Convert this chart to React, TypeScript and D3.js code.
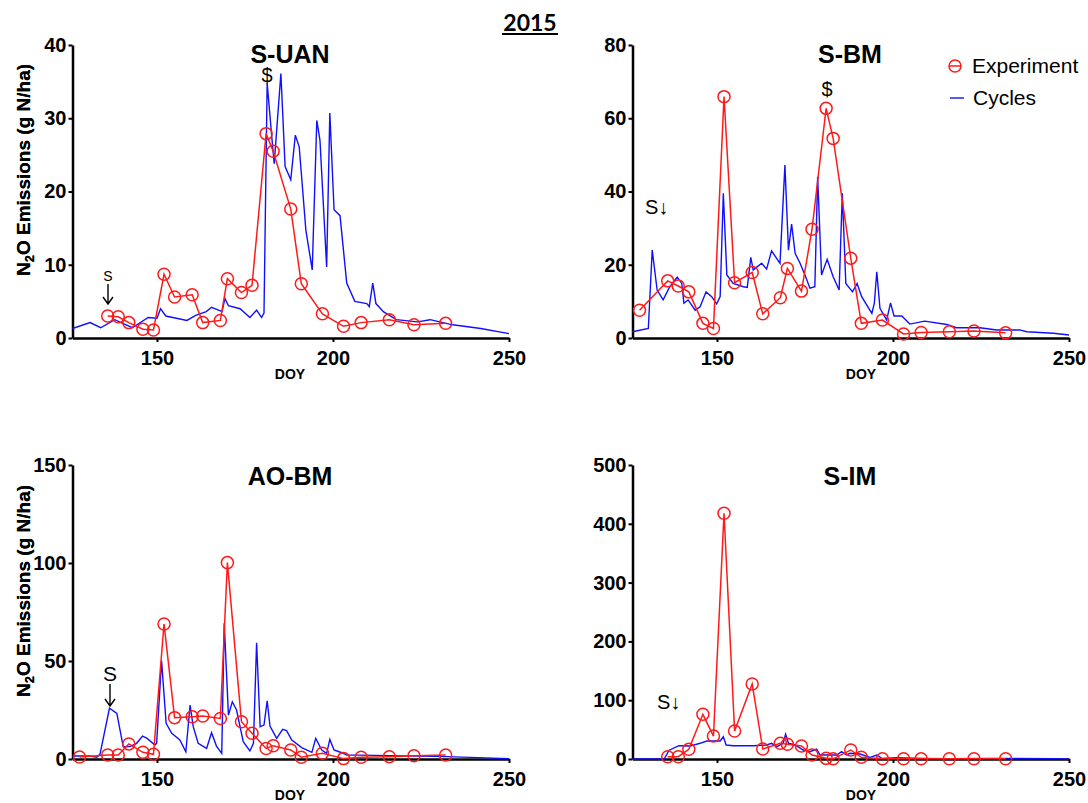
import React from 'react';
import * as d3 from 'd3';

// sampling days of the chamber measurements
const expDoy = [136, 139, 142, 146, 149, 152, 155, 160, 163, 168, 170, 174, 177, 181, 183, 188, 191, 197, 203, 208, 216, 223, 232];
const expDoyBM = [128, ...expDoy];

// Experiment (g N/ha)
const suanExp = [3.0, 2.9, 2.1, 1.2, 1.1, 8.7, 5.6, 5.9, 2.1, 2.4, 8.1, 6.2, 7.2, 27.9, 25.5, 17.6, 7.4, 3.3, 1.6, 2.1, 2.5, 1.8, 2.0];
const sbmExp = [7.6, 15.6, 14.2, 12.6, 4.0, 2.6, 65.9, 15.1, 17.9, 6.6, 11.0, 19.0, 12.8, 29.7, 62.7, 54.5, 21.8, 4.0, 4.9, 1.1, 1.5, 1.7, 1.9, 1.4];
const aobmExp = [1.0, 2.0, 2.0, 7.7, 3.4, 2.4, 68.9, 21.1, 21.6, 21.9, 20.7, 100.2, 19.0, 13.1, 5.4, 6.8, 4.6, 0.9, 2.9, 0.2, 0.9, 1.2, 1.7, 2.0];
const simExp = [3.9, 3.9, 16.5, 76, 39, 418, 47.6, 127.6, 17, 26.7, 25, 22.1, 6.8, 1.1, 0.3, 15.3, 2.9, 0.5, 0.5, 0.5, 0.5, 0.5, 0.5];

// Cycles model output [doy, g N/ha]
const suanCycles = [[126,1.3],[131,2.1],[134,1.4],[138,2.5],[143,1.4],[147.5,2.8],[150,2.7],[151,4.0],[152.5,3.0],[155.5,2.7],[158.5,2.4],[161,3.1],[164,3.6],[165.5,4.2],[168.5,3.6],[169.3,5.4],[170.3,4.4],[173.6,4.0],[176.4,2.8],[178.3,3.8],[179.7,2.8],[180.4,3.4],[181.3,34.8],[182.6,27.5],[183.3,23.8],[185.2,36.1],[186.4,23.4],[188,21.6],[189.3,27.7],[190.4,26.1],[192.3,14.7],[194.1,9.3],[195.4,29.7],[196.3,27.0],[198.2,9.7],[199.1,30.7],[200.3,17.5],[202,16.7],[203.9,7.5],[206.2,5.0],[209.6,4.7],[210.3,4.3],[211.3,7.5],[212.2,4.7],[214.3,3.6],[218,2.5],[224,2.2],[227.6,2.5],[234,1.8],[242,1.3],[250,0.6]];
const sbmCycles = [[126,1.7],[130.5,2.6],[131.6,24.0],[133,13.1],[134.7,10.4],[136.6,14.0],[138.7,16.6],[140,14.9],[140.6,9.5],[141.8,10.4],[143.8,7.6],[145.2,8.5],[146.9,12.6],[148.5,11.3],[149.9,9.3],[150.9,11.3],[151.8,39.5],[152.8,17.2],[154.6,14.9],[157.5,14.0],[158.6,13.8],[159.6,22.0],[160.3,18.6],[162.7,20.4],[164.1,18.8],[165.5,23.8],[167.9,20.4],[169.3,47.2],[170.3,24.0],[171.2,31.1],[172.2,23.1],[173.6,20.4],[175,17.2],[176.4,13.6],[177.8,14.0],[178.6,44.0],[179.7,17.2],[181.3,21.5],[183,16.7],[184.7,13.1],[185.6,39.5],[186.6,14.9],[188.5,12.6],[189.8,14.9],[191.1,11.3],[194,6.7],[194.7,9.5],[195.4,18.1],[196.3,8.1],[198.2,4.9],[199.3,9.6],[200.3,6.0],[202.5,6.0],[204.8,3.8],[209,4.6],[215.3,3.7],[218,2.8],[224.7,2.8],[229.5,2.2],[236,2.2],[238,1.7],[245.6,1.3],[250,0.8]];
const aobmCycles = [[126,1.5],[131,1.5],[132.9,0.9],[133.8,2.4],[136.5,25.9],[138.6,23.3],[140.4,6.3],[142.3,6.3],[144.2,8.0],[145.9,11.7],[147.2,10.5],[149.4,7.1],[149.9,8.0],[151.3,50.2],[152.6,18.2],[154.2,13.1],[156.5,9.7],[158.2,3.7],[159.4,27.5],[160.3,16.5],[161.7,8.0],[164.1,5.4],[165.5,13.4],[166.9,6.6],[168.4,2.9],[169.1,69.2],[170.3,22.4],[171.4,29.2],[172.6,25.0],[174.5,8.8],[176.4,4.1],[177.4,8.0],[178.3,59.3],[179.3,16.5],[180.4,17.3],[181.3,29.7],[182.1,16.8],[184,10.5],[185.7,15.1],[186.8,14.5],[188.3,9.7],[191.1,5.8],[194,3.4],[195.1,10.5],[196.8,4.6],[198.2,2.9],[199.1,10.0],[200.3,4.6],[202.5,3.2],[203.9,2.0],[207.7,2.0],[216.2,1.7],[232.3,1.2],[250,0.2]];
const simCycles = [[126,0],[135,0],[136.4,15],[139.2,22.6],[142.3,22],[145.2,26.7],[147.1,30.6],[150.9,30.6],[151.8,38],[152.6,23.8],[154.6,22.6],[160.3,22.6],[164.1,23.8],[165.5,26.7],[167,21],[168.8,26.7],[169.5,42],[170.3,26.7],[172.2,23.8],[174.5,15.3],[176.4,12.4],[178.3,17],[179.3,6.8],[184,6.8],[185.4,12.4],[186.8,6.8],[187.8,9.7],[190.6,8.5],[193.5,2.9],[195.4,6.8],[196.8,1.1],[201,2.2],[208.6,1.1],[216.2,0.5],[227.5,1.1],[245.4,0.5],[250,0]];

const xTicks = [150, 200, 250];
const yTicksSUAN = [0, 10, 20, 30, 40];
const yTicksSBM = [0, 20, 40, 60, 80];
const yTicksAOBM = [0, 50, 100, 150];
const yTicksSIM = [0, 100, 200, 300, 400, 500];

const FONT = "'Liberation Sans', Arial, sans-serif";

const panels = [
  { title: 'S-UAN', doy: expDoy, exp: suanExp, cyc: suanCycles, yTicks: yTicksSUAN, x: [72.5, 509], y: [338, 45], cx: 290, doyX: 290, labY: 170 },
  { title: 'S-BM', doy: expDoyBM, exp: sbmExp, cyc: sbmCycles, yTicks: yTicksSBM, x: [632.5, 1069], y: [338, 45], cx: 850, doyX: 861, labY: 170 },
  { title: 'AO-BM', doy: expDoyBM, exp: aobmExp, cyc: aobmCycles, yTicks: yTicksAOBM, x: [72.5, 509], y: [759, 465], cx: 290, doyX: 290, labY: 591 },
  { title: 'S-IM', doy: expDoy, exp: simExp, cyc: simCycles, yTicks: yTicksSIM, x: [632.5, 1069], y: [759, 465], cx: 850, doyX: 861, labY: 591 },
];

// little text notes on the panels
const notes = [
  { text: 'S', x: 108, y: 281, size: 14, anchor: 'middle', arrow: [284, 304] },
  { text: '$', x: 267, y: 82, size: 20, anchor: 'middle' },
  { text: 'S\u2193', x: 645, y: 214, size: 20, anchor: 'start' },
  { text: '$', x: 827, y: 96, size: 20, anchor: 'middle' },
  { text: 'S', x: 110, y: 681, size: 21, anchor: 'middle', arrow: [684, 706] },
  { text: 'S\u2193', x: 657, y: 709, size: 20, anchor: 'start' },
];

function App() {
  const svgRef = React.useRef(null);

  React.useEffect(() => {
    const svg = d3.select(svgRef.current);
    svg.selectAll('*').remove();

    // year title
    svg.append('text').attr('x', 530).attr('y', 31).attr('text-anchor', 'middle')
      .attr('font-family', 'Lato, sans-serif').attr('font-weight', 'bold').attr('font-size', 23)
      .text('2015');
    svg.append('line').attr('x1', 502).attr('x2', 558).attr('y1', 34).attr('y2', 34)
      .attr('stroke', 'black').attr('stroke-width', 2);

    panels.forEach((p) => {
      const x = d3.scaleLinear().domain([126, 250]).range(p.x);
      const y = d3.scaleLinear().domain([0, p.yTicks[p.yTicks.length - 1]]).range(p.y);
      const g = svg.append('g');

      // axes
      const yAxis = d3.axisLeft(y).tickValues(p.yTicks).tickSize(4).tickSizeOuter(0).tickPadding(2);
      const yg = g.append('g').attr('transform', `translate(${p.x[0]},0)`).call(yAxis);
      const xAxis = d3.axisBottom(x).tickValues(xTicks).tickSize(4).tickSizeOuter(0).tickPadding(9);
      const xg = g.append('g').attr('transform', `translate(0,${p.y[0]})`).call(xAxis);
      [yg, xg].forEach((a) => {
        a.select('.domain').attr('stroke-width', 2.5);
        a.selectAll('line').attr('stroke-width', 2);
        a.selectAll('text').attr('font-family', FONT).attr('font-weight', 'bold').attr('font-size', 20).attr('fill', 'black');
      });

      // cycles line
      const line = d3.line().x((d) => x(d[0])).y((d) => y(d[1]));
      g.append('path').attr('d', line(p.cyc)).attr('fill', 'none')
        .attr('stroke', '#1010ff').attr('stroke-width', 1.4);

      // experiment
      const pts = p.doy.map((d, i) => [d, p.exp[i]]);
      g.append('path').attr('d', line(pts)).attr('fill', 'none')
        .attr('stroke', '#ff1a1a').attr('stroke-width', 1.5);
      g.selectAll('circle.exp').data(pts).enter().append('circle')
        .attr('cx', (d) => x(d[0])).attr('cy', (d) => y(d[1])).attr('r', 6)
        .attr('fill', 'none').attr('stroke', '#ff1a1a').attr('stroke-width', 1.5);

      // titles and labels
      g.append('text').attr('x', p.cx).attr('y', p.y[1] === 45 ? 63 : 485).attr('text-anchor', 'middle')
        .attr('font-family', FONT).attr('font-weight', 'bold').attr('font-size', 25).text(p.title);
      g.append('text').attr('x', p.doyX).attr('y', p.y[0] + 41).attr('text-anchor', 'middle')
        .attr('font-family', FONT).attr('font-weight', 'bold').attr('font-size', 14).text('DOY');
      const yl = g.append('text').attr('transform', `translate(30,${p.labY}) rotate(-90)`)
        .attr('text-anchor', 'middle').attr('font-family', FONT).attr('font-weight', 'bold').attr('font-size', 19);
      yl.append('tspan').text('N');
      yl.append('tspan').attr('font-size', 13).attr('dy', 4).text('2');
      yl.append('tspan').attr('dy', -4).text('O Emissions (g N/ha)');
    });

    notes.forEach((n) => {
      svg.append('text').attr('x', n.x).attr('y', n.y).attr('text-anchor', n.anchor)
        .attr('font-family', FONT).attr('font-size', n.size).text(n.text);
      if (n.arrow) {
        const [a, b] = n.arrow;
        svg.append('path')
          .attr('d', `M${n.x},${a}V${b}M${n.x - 5},${b - 7}L${n.x},${b}L${n.x + 5},${b - 7}`)
          .attr('fill', 'none').attr('stroke', 'black').attr('stroke-width', 1.4);
      }
    });

    // legend
    const lg = svg.append('g').attr('font-family', FONT).attr('font-size', 21);
    lg.append('circle').attr('cx', 955).attr('cy', 66).attr('r', 6)
      .attr('fill', 'none').attr('stroke', '#ff1a1a').attr('stroke-width', 1.5);
    lg.append('line').attr('x1', 949).attr('x2', 961).attr('y1', 66).attr('y2', 66)
      .attr('stroke', '#ff1a1a').attr('stroke-width', 1.5);
    lg.append('text').attr('x', 972).attr('y', 73).text('Experiment');
    lg.append('line').attr('x1', 950).attr('x2', 964).attr('y1', 98).attr('y2', 98)
      .attr('stroke', '#1010ff').attr('stroke-width', 1.4);
    lg.append('text').attr('x', 973).attr('y', 105).text('Cycles');
  }, []);

  return (
    <svg ref={svgRef} width={1088} height={803}
      style={{ position: 'absolute', left: 0, top: 0, background: 'white' }} />
  );
}

export default App;
